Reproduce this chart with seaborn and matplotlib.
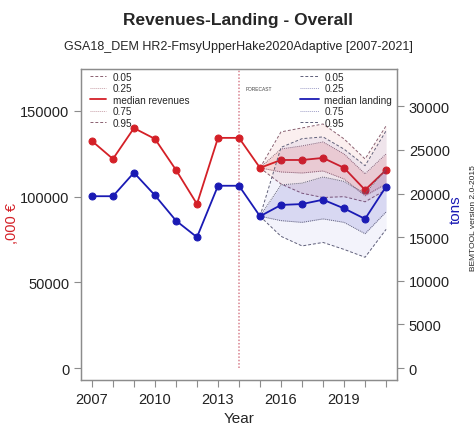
import matplotlib
matplotlib.use("Agg")
import matplotlib.pyplot as plt
from matplotlib.lines import Line2D
import pandas as pd
import numpy as np
import seaborn as sns

# data
years = list(range(2007, 2022))
revenues_median = [132500, 122000, 140000, 133700, 115600, 95700, 134300, 134300,
                   116800, 121400, 121400, 122600, 116800, 103900, 115600]
landing_median = [19700, 19700, 22400, 19800, 16900, 15000, 20900, 20900,
                  17400, 18700, 18800, 19300, 18300, 17100, 20800]

forecast_years = list(range(2015, 2022))
rev_q05 = [116800, 107400, 102000, 99500, 100000, 97000, 104000]
rev_q25 = [116800, 114400, 113800, 115000, 110300, 100500, 107400]
rev_q75 = [116800, 127800, 129600, 131900, 124900, 113300, 124900]
rev_q95 = [116800, 137800, 140100, 142400, 133700, 122000, 141300]

land_q05 = [17400, 15100, 14000, 14400, 13600, 12700, 15900]
land_q25 = [17400, 16900, 16700, 17100, 16700, 15400, 17900]
land_q75 = [17400, 21000, 21200, 21900, 21400, 20000, 22800]
land_q95 = [17400, 25300, 26300, 26500, 25100, 23200, 27200]

forecast_start = 2014
rev_ticks = [0, 50000, 100000, 150000]
land_ticks = [0, 5000, 10000, 15000, 20000, 25000, 30000]
year_labels = [2007, 2010, 2013, 2016, 2019]

red = "#d42027"
blue = "#1a1ab4"
grey = "#8c8c8c"

sns.set_style("ticks")
plt.rcParams["font.family"] = ["Liberation Sans", "DejaVu Sans"]

df = pd.DataFrame({"Year": years, "rev": revenues_median, "land": landing_median})
fc = pd.DataFrame({"Year": forecast_years, "r05": rev_q05, "r25": rev_q25, "r75": rev_q75,
                   "r95": rev_q95, "l05": land_q05, "l25": land_q25, "l75": land_q75, "l95": land_q95})

fig = plt.figure(figsize=(4.77, 4.27), dpi=100)
ax = fig.add_axes([0.1698, 0.1077, 0.6625, 0.7284])
ax2 = ax.twinx()

ax.vlines(forecast_start, 0, 174500, color="#d9828f", lw=1.1, linestyles=(0, (1, 1.2)))
ax.text(forecast_start + 0.3, 162000, "FORECAST", fontsize=3.5, color="#444444")

# revenues (left axis)
ax.fill_between(fc["Year"], fc["r05"], fc["r95"], color=red, alpha=0.07, lw=0)
ax.fill_between(fc["Year"], fc["r25"], fc["r75"], color=red, alpha=0.13, lw=0)
for col, ls in [("r05", (0, (3, 2))), ("r25", (0, (1, 1))), ("r75", (0, (1, 1))), ("r95", (0, (3, 2)))]:
    sns.lineplot(data=fc, x="Year", y=col, ax=ax, color="#8a6070", lw=0.7, linestyle=ls)
sns.lineplot(data=df, x="Year", y="rev", ax=ax, color=red, lw=1.3, marker="o",
             markersize=5, markeredgecolor=red)

# landing (right axis)
ax2.fill_between(fc["Year"], fc["l05"], fc["l95"], color=blue, alpha=0.05, lw=0)
ax2.fill_between(fc["Year"], fc["l25"], fc["l75"], color=blue, alpha=0.12, lw=0)
for col, ls in [("l05", (0, (3, 2))), ("l25", (0, (1, 1))), ("l75", (0, (1, 1))), ("l95", (0, (3, 2)))]:
    sns.lineplot(data=fc, x="Year", y=col, ax=ax2, color="#60607a", lw=0.7, linestyle=ls)
sns.lineplot(data=df, x="Year", y="land", ax=ax2, color=blue, lw=1.3, marker="o",
             markersize=5, markeredgecolor=blue)

ax.set_xlim(2006.48, 2021.52)
ax.set_ylim(-7000, 174500)
ax2.set_ylim(-1376, 34290)

ax.set_xticks(years)
ax.set_xticklabels([str(y) if y in year_labels else "" for y in years])
ax.set_yticks(rev_ticks)
ax.set_yticklabels([str(t) for t in rev_ticks])
ax2.set_yticks(land_ticks)
ax2.set_yticklabels([str(t) for t in land_ticks])

for a in (ax, ax2):
    a.tick_params(labelsize=10.5, color=grey, length=5, width=0.8, colors="#222222")
    for s in a.spines.values():
        s.set_color(grey)
        s.set_linewidth(0.9)
ax.tick_params(axis="both", color=grey)
ax2.tick_params(axis="y", color=grey)

ax.set_xlabel("Year", fontsize=11)
ax.set_ylabel(",000 €", fontsize=10.5, color=red)
ax.yaxis.set_label_coords(-0.196, 0.505)
ax2.set_ylabel("tons", fontsize=11, color=blue)
ax2.yaxis.set_label_coords(1.165, 0.55)

rev_handles = [Line2D([], [], color="#8a6070", lw=0.7, ls=(0, (3, 2))),
               Line2D([], [], color="#c8a0a8", lw=0.7, ls=(0, (1, 1))),
               Line2D([], [], color=red, lw=1.3),
               Line2D([], [], color="#c8a0a8", lw=0.7, ls=(0, (1, 1))),
               Line2D([], [], color="#8a6070", lw=0.7, ls=(0, (3, 2)))]
land_handles = [Line2D([], [], color="#60607a", lw=0.7, ls=(0, (3, 2))),
                Line2D([], [], color="#a0a0c8", lw=0.7, ls=(0, (1, 1))),
                Line2D([], [], color=blue, lw=1.3),
                Line2D([], [], color="#a0a0c8", lw=0.7, ls=(0, (1, 1))),
                Line2D([], [], color="#60607a", lw=0.7, ls=(0, (3, 2)))]
ax.legend(rev_handles, ["0.05", "0.25", "median revenues", "0.75", "0.95"],
          loc="upper left", bbox_to_anchor=(0.0, 1.02), frameon=False, fontsize=7.2,
          handlelength=1.6, labelspacing=0.15, handletextpad=0.7)
ax2.legend(land_handles, ["0.05", "0.25", "median landing", "0.75", "0.95"],
           loc="upper left", bbox_to_anchor=(0.665, 1.02), frameon=False, fontsize=7.2,
           handlelength=1.9, labelspacing=0.15, handletextpad=0.5)

fig.text(0.5, 0.953, "Revenues-Landing - Overall", ha="center", va="center",
         fontsize=12.5, fontweight="bold")
fig.text(0.5, 0.89, "GSA18_DEM HR2-FmsyUpperHake2020Adaptive [2007-2021]", ha="center",
         va="center", fontsize=9)
fig.text(0.999, 0.49, "BEMTOOL version 2.0-2015", rotation=90, ha="right", va="center",
         fontsize=6)

fig.savefig("out.png", dpi=100)
